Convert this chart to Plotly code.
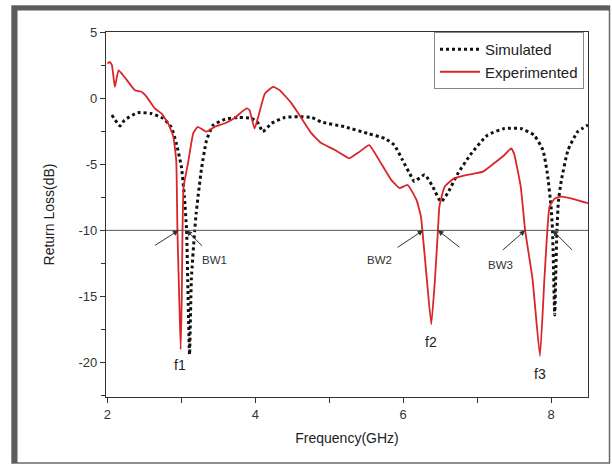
import plotly.graph_objects as go

# ---------------- data ----------------
sim_freq = [2.06, 2.17, 2.23, 2.41, 2.59, 2.75, 2.86, 2.93, 3.00, 3.04, 3.07, 3.09, 3.11,
            3.135, 3.18, 3.20, 3.27, 3.34, 3.43, 3.59, 3.77, 3.95, 4.04, 4.10, 4.22, 4.40,
            4.58, 4.76, 4.89, 5.21, 5.52, 5.75, 5.88, 5.99, 6.11, 6.15, 6.29, 6.40, 6.51,
            6.60, 6.74, 6.92, 7.14, 7.37, 7.59, 7.77, 7.89, 7.95, 8.00, 8.02, 8.05, 8.065,
            8.08, 8.10, 8.14, 8.23, 8.36, 8.50]
sim_db = [-1.28, -2.10, -1.66, -1.10, -1.16, -1.53, -2.17, -3.40, -5.20, -7.45, -10.0, -15.0, -19.4,
          -13.7, -10.0, -8.7, -5.4, -3.2, -2.04, -1.60, -1.46, -1.53, -1.90, -2.54, -1.90, -1.46,
          -1.41, -1.46, -1.80, -2.17, -2.67, -3.05, -3.55, -4.68, -5.94, -6.30, -5.80, -6.70, -7.83,
          -7.20, -5.70, -4.20, -2.80, -2.30, -2.30, -2.80, -3.93, -5.70, -8.20, -10.0, -16.4, -13.0,
          -10.0, -7.8, -6.2, -3.93, -2.54, -2.04]

exp_freq = [2.00, 2.03, 2.06, 2.10, 2.15, 2.23, 2.37, 2.46, 2.53, 2.64, 2.73, 2.82, 2.89,
            2.93, 2.946, 2.97, 2.99, 3.005, 3.015, 3.03, 3.09, 3.16, 3.22, 3.34, 3.45, 3.59,
            3.72, 3.88, 3.92, 3.99, 4.04, 4.13, 4.24, 4.33, 4.49, 4.64, 4.76, 4.89, 5.07,
            5.16, 5.27, 5.41, 5.54, 5.70, 5.84, 5.95, 6.06, 6.18, 6.24, 6.26, 6.32, 6.38,
            6.43, 6.47, 6.49, 6.56, 6.69, 6.87, 7.08, 7.23, 7.37, 7.46, 7.50, 7.59, 7.65,
            7.75, 7.85, 7.91, 7.95, 7.98, 8.05, 8.14, 8.32, 8.50]
exp_db = [2.62, 2.74, 2.50, 0.85, 2.10, 1.60, 0.60, 0.48, 0.10, -0.78, -1.16, -1.90, -2.90,
          -4.70, -10.0, -15.0, -19.0, -15.0, -10.0, -6.70, -4.90, -2.67, -2.17, -2.54, -2.17, -1.90,
          -1.50, -0.78, -0.90, -2.30, -1.40, 0.35, 0.85, 0.60, -0.40, -1.66, -2.67, -3.40, -3.90,
          -4.20, -4.55, -4.05, -3.55, -4.93, -6.20, -6.80, -6.57, -7.70, -8.96, -10.0, -13.7, -17.1,
          -13.7, -10.0, -8.20, -6.70, -6.07, -5.80, -5.56, -4.93, -4.30, -3.80, -4.20, -6.70, -10.0,
          -13.7, -19.5, -13.7, -10.0, -8.20, -7.60, -7.45, -7.65, -7.95]

threshold_db = -10

# annotation texts
bw_labels = ["BW1", "BW2", "BW3"]
f_labels = ["f1", "f2", "f3"]
y_ticks = [5, 0, -5, -10, -15, -20]
y_tick_text = ["5", "0", "-5", "-10", "-15", "-20"]

# ---------------- figure ----------------
W, H = 612, 465
ML, MR, MT, MB = 106, 24, 32, 68
PW, PH = W - ML - MR, H - MT - MB


def px(x):
    return (x - ML) / PW


def py(y):
    return (H - MB - y) / PH


FONT = "Arial, Liberation Sans, sans-serif"

fig = go.Figure()
fig.add_trace(go.Scatter(x=sim_freq, y=sim_db, name="Simulated", mode="lines",
                         line=dict(color="#111111", width=3, dash="dot",
                                   shape="spline", smoothing=0.5)))
fig.add_trace(go.Scatter(x=exp_freq, y=exp_db, name="Experimented", mode="lines",
                         line=dict(color="#d9262a", width=1.8, shape="spline", smoothing=0.4)))

shapes = [
    # -10 dB reference line
    dict(type="line", xref="paper", yref="y", x0=0, x1=1, y0=threshold_db, y1=threshold_db,
         line=dict(color="#555555", width=1)),
    # outer picture frame
    dict(type="rect", xref="paper", yref="paper", x0=px(12), x1=px(609.5), y0=py(6), y1=py(463),
         line=dict(color="#6a6a6a", width=1.5), layer="below"),
    dict(type="rect", xref="paper", yref="paper", x0=px(12), x1=px(610), y0=py(6), y1=py(10.5),
         line=dict(width=0), fillcolor="#5c5c5c", layer="below"),
    dict(type="rect", xref="paper", yref="paper", x0=px(12), x1=px(17.5), y0=py(6), y1=py(463),
         line=dict(width=0), fillcolor="#5c5c5c", layer="below"),
]

annotations = []
# arrows: (head freq, tail dx, tail dy)
arrows = [(2.96, -25, 16), (3.07, 17, 17), (6.27, -27, 18), (6.47, 23, 18),
          (7.65, -24, 21), (8.02, 21, 21)]
for xf, ax, ay in arrows:
    annotations.append(dict(x=xf, y=threshold_db, xref="x", yref="y", ax=ax, ay=ay,
                            showarrow=True, arrowhead=2, arrowsize=1.1, arrowwidth=1,
                            arrowcolor="#333333", text=""))
bw_pos = [(3.45, -12.25), (5.68, -12.25), (7.31, -12.6)]
for t, (xf, yd) in zip(bw_labels, bw_pos):
    annotations.append(dict(x=xf, y=yd, xref="x", yref="y", text=t, showarrow=False,
                            font=dict(family=FONT, size=11.5, color="#333333")))
f_pos = [(2.98, -20.2), (6.38, -18.45), (7.85, -20.85)]
for t, (xf, yd) in zip(f_labels, f_pos):
    annotations.append(dict(x=xf, y=yd, xref="x", yref="y", text=t, showarrow=False,
                            font=dict(family=FONT, size=14, color="#222222")))

fig.update_layout(
    width=W, height=H,
    margin=dict(l=ML, r=MR, t=MT, b=MB, autoexpand=False),
    paper_bgcolor="white", plot_bgcolor="white",
    font=dict(family=FONT, size=12, color="#333333"),
    shapes=shapes, annotations=annotations,
    legend=dict(x=px(584), y=1, xanchor="right", yanchor="top",
                bgcolor="white", bordercolor="#888888", borderwidth=1,
                font=dict(family=FONT, size=15, color="#222222"),
                itemwidth=40, tracegroupgap=0),
    xaxis=dict(range=[1.98, 8.5], tickvals=[2, 4, 6, 8], ticks="outside", ticklen=5,
               tickwidth=1, tickcolor="#333333", showline=True, linecolor="#333333",
               linewidth=1.3, mirror=True, showgrid=False, zeroline=False,
               minor=dict(tickvals=[3, 5, 7], ticks="outside", ticklen=5, tickcolor="#333333"),
               tickfont=dict(size=13, color="#333333"),
               title=dict(text="Frequency(GHz)", font=dict(size=14, color="#222222"), standoff=12)),
    yaxis=dict(range=[-22.6, 5], tickvals=y_ticks, ticktext=y_tick_text, ticks="outside",
               ticklen=5, tickwidth=1, tickcolor="#333333", showline=True, linecolor="#333333",
               linewidth=1.3, mirror=True, showgrid=False, zeroline=False,
               minor=dict(dtick=2.5, ticks="outside", ticklen=4, tickcolor="#333333"),
               tickfont=dict(size=13, color="#333333"),
               title=dict(text="Return Loss(dB)", font=dict(size=14, color="#222222"), standoff=20)),
)

fig.write_html("out.html")
